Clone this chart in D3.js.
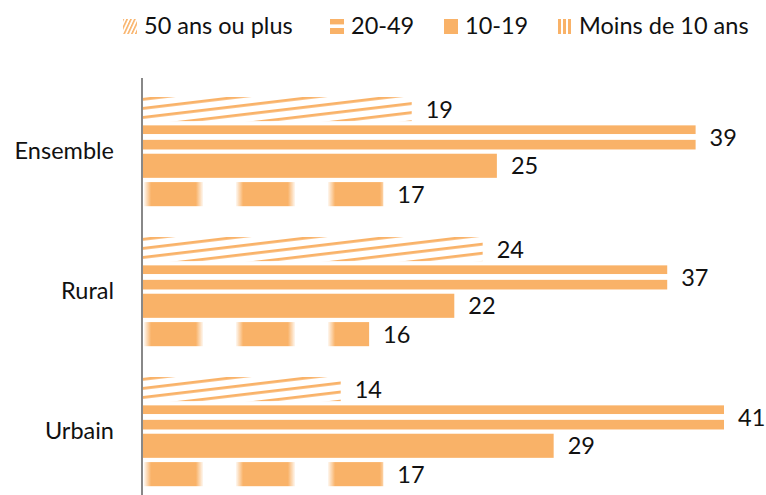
<!DOCTYPE html>
<html>
<head>
<meta charset="utf-8">
<script src="https://cdn.jsdelivr.net/npm/d3@7"></script>
<style>
  html, body { margin: 0; padding: 0; background: #fff; }
  svg text { font-family: Lato, "Open Sans", sans-serif; fill: #111; }
</style>
</head>
<body>
<svg id="chart" width="766" height="495"></svg>
<script>
// Répartition par tranche d'âge (%)
const categories = ["Ensemble", "Rural", "Urbain"];
const seriesNames = ["50 ans ou plus", "20-49", "10-19", "Moins de 10 ans"];
const plus50 = [19, 24, 14];
const from20to49 = [39, 37, 41];
const from10to19 = [25, 22, 29];
const under10 = [17, 16, 17];
const seriesValues = [plus50, from20to49, from10to19, under10];

const color = "#F9B268";
const fontSize = 23.5;
const svg = d3.select("#chart");
const defs = svg.append("defs");

const axisX = 142;
const x = d3.scaleLinear().domain([0, 41]).range([axisX, 724]);
const y = d3.scaleBand().domain(categories).range([81.6, 501.6]).paddingInner(0.22).paddingOuter(0.11);
const ySub = d3.scaleBand().domain(seriesNames).range([0, y.bandwidth()]).paddingInner(0.15);

// Motif : traits obliques fins (50 ans ou plus)
const pDiag = defs.append("pattern").attr("id", "p-diag")
  .attr("patternUnits", "userSpaceOnUse").attr("width", 40).attr("height", 9)
  .attr("patternTransform", `translate(${axisX},1) rotate(-6.8)`);
pDiag.append("rect").attr("x", 0).attr("y", 0).attr("width", 40).attr("height", 2.8).attr("fill", color);

// Motif : deux bandes horizontales (20-49)
const pHoriz = defs.append("pattern").attr("id", "p-horiz")
  .attr("patternUnits", "objectBoundingBox").attr("patternContentUnits", "objectBoundingBox")
  .attr("width", 1).attr("height", 1);
pHoriz.append("rect").attr("x", 0).attr("y", 0).attr("width", 1).attr("height", 0.36).attr("fill", color);
pHoriz.append("rect").attr("x", 0).attr("y", 0.6).attr("width", 1).attr("height", 0.4).attr("fill", color);

// Motif : blocs à bords adoucis (moins de 10 ans)
const grad = defs.append("linearGradient").attr("id", "g-soft")
  .attr("x1", 0).attr("x2", 1).attr("y1", 0).attr("y2", 0);
[[0, 0.1], [0.12, 1], [0.88, 1], [1, 0.1]].forEach(([o, a]) =>
  grad.append("stop").attr("offset", o).attr("stop-color", color).attr("stop-opacity", a));
const pBlock = defs.append("pattern").attr("id", "p-block")
  .attr("patternUnits", "userSpaceOnUse").attr("width", 92).attr("height", 40)
  .attr("x", axisX).attr("y", 0);
pBlock.append("rect").attr("x", 2).attr("y", 0).attr("width", 59).attr("height", 40).attr("fill", "url(#g-soft)");

// Motifs de légende
const lDiag = defs.append("pattern").attr("id", "l-diag")
  .attr("patternUnits", "userSpaceOnUse").attr("width", 3.5).attr("height", 6)
  .attr("patternTransform", "rotate(25)");
lDiag.append("rect").attr("width", 1.6).attr("height", 6).attr("fill", color);
const lVert = defs.append("pattern").attr("id", "l-vert")
  .attr("patternUnits", "userSpaceOnUse").attr("width", 5).attr("height", 10).attr("x", 558);
lVert.append("rect").attr("width", 3).attr("height", 10).attr("fill", color);

const fills = ["url(#p-diag)", "url(#p-horiz)", color, "url(#p-block)"];
const legendFills = ["url(#l-diag)", "url(#p-horiz)", color, "url(#l-vert)"];

// Barres
const groups = svg.selectAll("g.cat").data(categories).join("g")
  .attr("class", "cat")
  .attr("transform", d => `translate(0,${y(d)})`);

seriesNames.forEach((s, si) => {
  groups.append("rect")
    .attr("x", x(0))
    .attr("y", ySub(s))
    .attr("width", (d, ci) => x(seriesValues[si][ci]) - x(0))
    .attr("height", ySub.bandwidth())
    .attr("fill", fills[si]);
  groups.append("text")
    .attr("x", (d, ci) => x(seriesValues[si][ci]) + 14)
    .attr("y", ySub(s) + ySub.bandwidth() / 2)
    .attr("dy", "0.36em")
    .attr("font-size", fontSize)
    .text((d, ci) => seriesValues[si][ci]);
});

// Axe vertical
const yAxis = svg.append("g").attr("transform", `translate(${axisX},0)`)
  .call(d3.axisLeft(y).tickSize(0).tickPadding(28));
yAxis.select(".domain").attr("stroke", "#888").attr("stroke-width", 2)
  .attr("d", `M0,78V495`);
yAxis.selectAll("text").attr("font-size", fontSize).style("font-family", "Lato, sans-serif").attr("fill", "#111");

// Légende
const legendX = [123, 330, 444, 558];
const legend = svg.append("g");
seriesNames.forEach((s, i) => {
  legend.append("rect").attr("x", legendX[i]).attr("y", 19).attr("width", 14).attr("height", 15)
    .attr("fill", legendFills[i]);
  legend.append("text").attr("x", legendX[i] + 21).attr("y", 26).attr("dy", "0.36em")
    .attr("font-size", fontSize).text(s);
});
</script>
</body>
</html>
